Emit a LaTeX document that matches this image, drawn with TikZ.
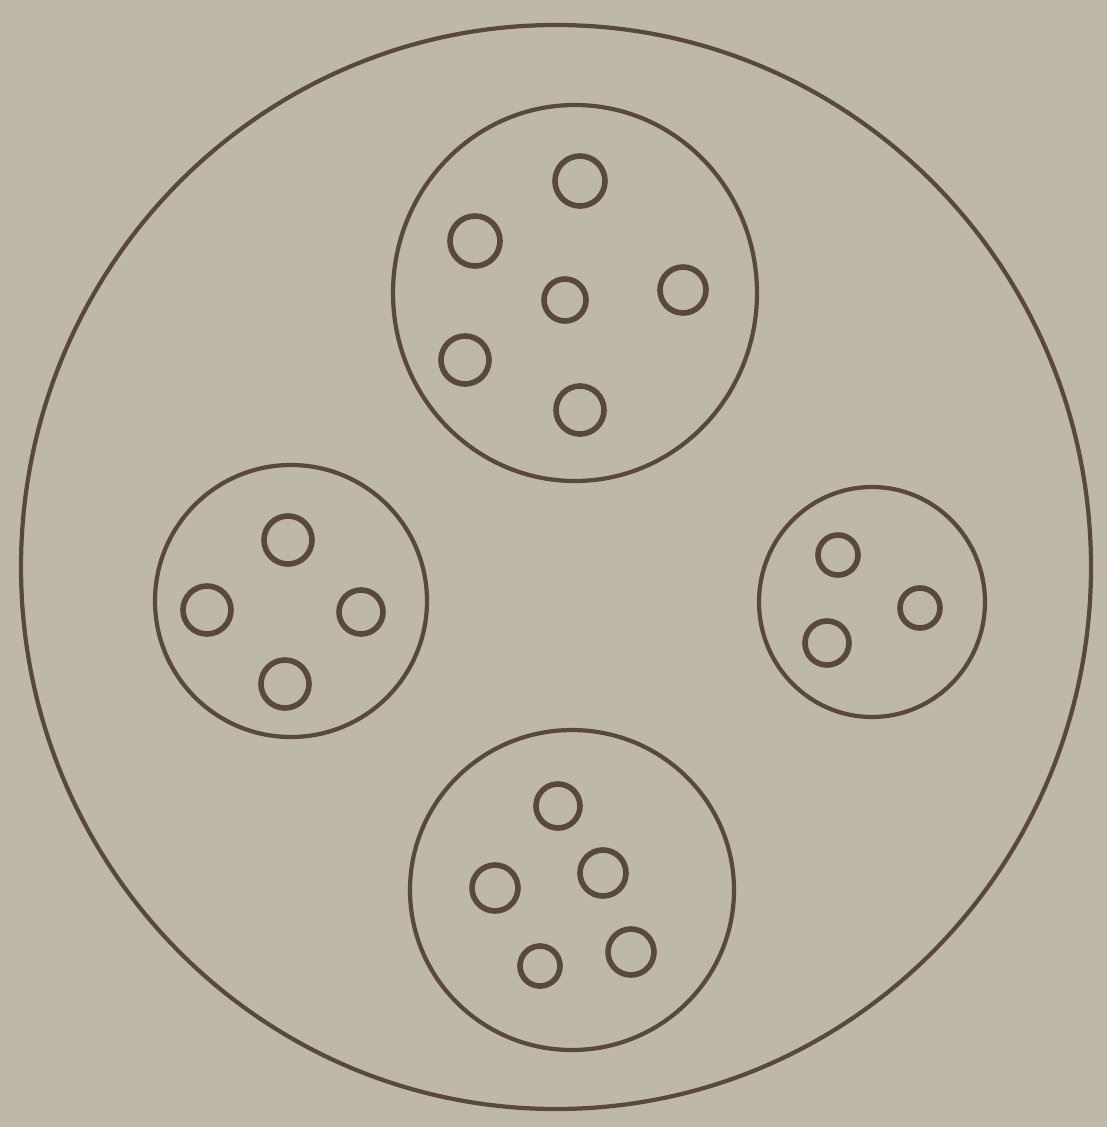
\documentclass[tikz,border=0pt]{standalone}
\usepackage{tikz}

\definecolor{paper}{RGB}{190,184,170}
\definecolor{ink}{RGB}{88,72,62}

\tikzset{
  cell/.style={draw=ink, line width=1.2pt},
  spot/.style={draw=ink, line width=1.6pt}
}

\begin{document}
\begin{tikzpicture}[x=0.01cm, y=-0.01cm]

% --- Background (fixes the margins) ---
\fill[paper] (0,0) rectangle (1107,1127);

% --- Outer circle ---
\draw[cell] (556,567) ellipse (535 and 542);

% --- Top cluster ---
\draw[cell] (575,293) ellipse (182 and 188);
\foreach \x/\y/\r in {580/181/25, 475/241/25, 565/300/21, 683/290/23, 465/360/24, 580/410/24}
  \draw[spot] (\x,\y) circle (\r);

% --- Left cluster ---
\draw[cell] (291,601) ellipse (136 and 136);
\foreach \x/\y/\r in {288/540/24, 207/610/24, 361/612/22, 285/684/24}
  \draw[spot] (\x,\y) circle (\r);

% --- Right cluster ---
\draw[cell] (872,602) ellipse (113 and 115);
\foreach \x/\y/\r in {838/555/20, 920/608/20, 827/643/22}
  \draw[spot] (\x,\y) circle (\r);

% --- Bottom cluster ---
\draw[cell] (572,890) ellipse (162 and 160);
\foreach \x/\y/\r in {558/806/22, 495/888/23, 603/873/23, 631/952/23, 540/966/20}
  \draw[spot] (\x,\y) circle (\r);

\end{tikzpicture}
\end{document}
